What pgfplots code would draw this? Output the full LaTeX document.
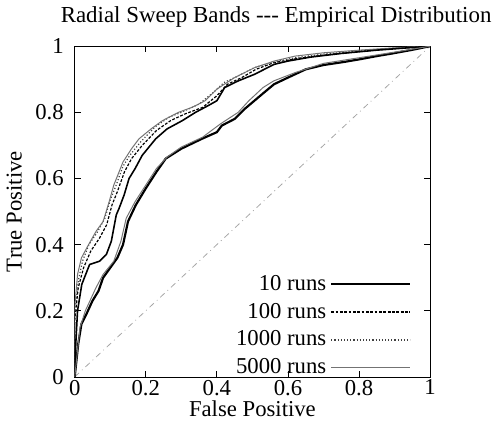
\documentclass[border=0pt]{standalone}
\usepackage{fontspec}
\setmainfont{Liberation Serif}
\usepackage{pgfplots}
\pgfplotsset{compat=1.18}

\pgfplotstableread{
x y
0 0
0.01 0.10
0.019 0.16
0.033 0.19
0.05 0.23
0.067 0.26
0.08 0.30
0.10 0.33
0.12 0.36
0.136 0.40
0.15 0.47
0.172 0.52
0.20 0.57
0.23 0.62
0.256 0.66
0.30 0.69
0.358 0.72
0.40 0.74
0.414 0.76
0.45 0.78
0.478 0.81
0.50 0.83
0.533 0.86
0.561 0.885
0.60 0.905
0.65 0.93
0.70 0.943
0.756 0.952
0.80 0.96
0.85 0.97
0.894 0.978
0.95 0.989
1 1
}\lowten

\pgfplotstableread{
x y
0 0
0.015 0.15
0.03 0.20
0.06 0.27
0.08 0.31
0.11 0.35
0.13 0.41
0.145 0.48
0.17 0.53
0.20 0.58
0.23 0.63
0.26 0.665
0.30 0.695
0.36 0.725
0.41 0.765
0.46 0.80
0.49 0.835
0.53 0.875
0.56 0.895
0.62 0.92
0.70 0.948
0.80 0.965
0.90 0.982
1 1
}\lowfivek

\pgfplotstableread{
x y
0 0
0.003 0.10
0.008 0.20
0.02 0.28
0.042 0.34
0.07 0.35
0.089 0.37
0.103 0.41
0.117 0.49
0.125 0.51
0.139 0.55
0.153 0.60
0.17 0.63
0.19 0.67
0.228 0.72
0.26 0.75
0.303 0.775
0.34 0.80
0.375 0.82
0.40 0.835
0.422 0.875
0.46 0.895
0.506 0.915
0.561 0.945
0.60 0.955
0.664 0.967
0.75 0.978
0.85 0.988
1 1
}\upten

\pgfplotstableread{
x y
0 0
0 0.17
0.01 0.27
0.025 0.33
0.045 0.38
0.07 0.42
0.09 0.46
0.105 0.52
0.12 0.56
0.14 0.62
0.16 0.66
0.19 0.70
0.23 0.745
0.27 0.775
0.31 0.795
0.36 0.815
0.40 0.85
0.43 0.885
0.47 0.905
0.51 0.93
0.56 0.95
0.62 0.962
0.70 0.973
0.80 0.984
0.90 0.993
1 1
}\uphundred

\pgfplotstableread{
x y
0 0
0 0.19
0.01 0.29
0.022 0.35
0.04 0.40
0.065 0.44
0.085 0.48
0.10 0.535
0.115 0.575
0.135 0.635
0.155 0.67
0.185 0.71
0.225 0.755
0.265 0.785
0.30 0.80
0.35 0.825
0.39 0.86
0.42 0.89
0.46 0.91
0.505 0.935
0.56 0.952
0.62 0.965
0.70 0.976
0.80 0.986
0.90 0.994
1 1
}\upthousand

\pgfplotstableread{
x y
0 0
0 0.21
0.008 0.31
0.019 0.36
0.039 0.40
0.06 0.44
0.08 0.47
0.097 0.53
0.11 0.58
0.136 0.65
0.16 0.69
0.181 0.72
0.215 0.75
0.247 0.775
0.292 0.80
0.33 0.815
0.367 0.835
0.40 0.87
0.414 0.88
0.45 0.905
0.506 0.935
0.561 0.955
0.62 0.97
0.70 0.98
0.80 0.988
0.90 0.995
1 1
}\upfivek

\begin{document}
\begin{tikzpicture}
\begin{axis}[
  width=180pt, height=167.5pt, scale only axis,
  xmin=0, xmax=1, ymin=0, ymax=1,
  xtick={0,0.2,0.4,0.6,0.8,1}, ytick={0,0.2,0.4,0.6,0.8,1},
  xticklabels={0,0.2,0.4,0.6,0.8,1}, yticklabels={0,0.2,0.4,0.6,0.8,1},
  tick align=inside, major tick length=3pt,
  tick style={black, thin},
  axis line style={black, thin},
  font=\fontsize{11.5}{13}\selectfont,
  tick label style={font=\fontsize{11.5}{13}\selectfont},
  xticklabel style={yshift=2pt},
  yticklabel style={xshift=-2pt},
  title={Radial Sweep Bands -{}-{}- Empirical Distribution},
  title style={at={(0.5,1)}, xshift=12pt, yshift=0pt,
    font=\fontsize{11.6}{14}\selectfont},
  xlabel={False Positive}, ylabel={True Positive},
  xlabel style={yshift=4pt},
  ylabel style={yshift=0pt},
  legend style={draw=none, fill=none, at={(0.965,-0.025)}, anchor=south east,
    font=\fontsize{11.5}{13}\selectfont, row sep=1pt},
  legend cell align=right,
  legend plot pos=right,
  legend image code/.code={\draw[#1] (0pt,0pt) -- (40pt,0pt);},
]
\addplot[black!35, dash dot, thin, forget plot] coordinates {(0,0) (1,1)};
\addplot[black, line width=1.1pt] table {\lowten};
\addlegendentry{10 runs}
\addplot[black, line width=0.6pt, dash pattern=on 1.4pt off 0.8pt] table {\uphundred};
\addlegendentry{100 runs}
\addplot[black!75, line width=0.6pt, densely dotted] table {\upthousand};
\addlegendentry{1000 runs}
\addplot[black!55, line width=0.5pt] table {\upfivek};
\addlegendentry{5000 runs}
\addplot[black, line width=0.8pt, forget plot] table {\upten};
\addplot[black!55, line width=0.5pt, forget plot] table {\lowfivek};
\end{axis}
\end{tikzpicture}
\end{document}
